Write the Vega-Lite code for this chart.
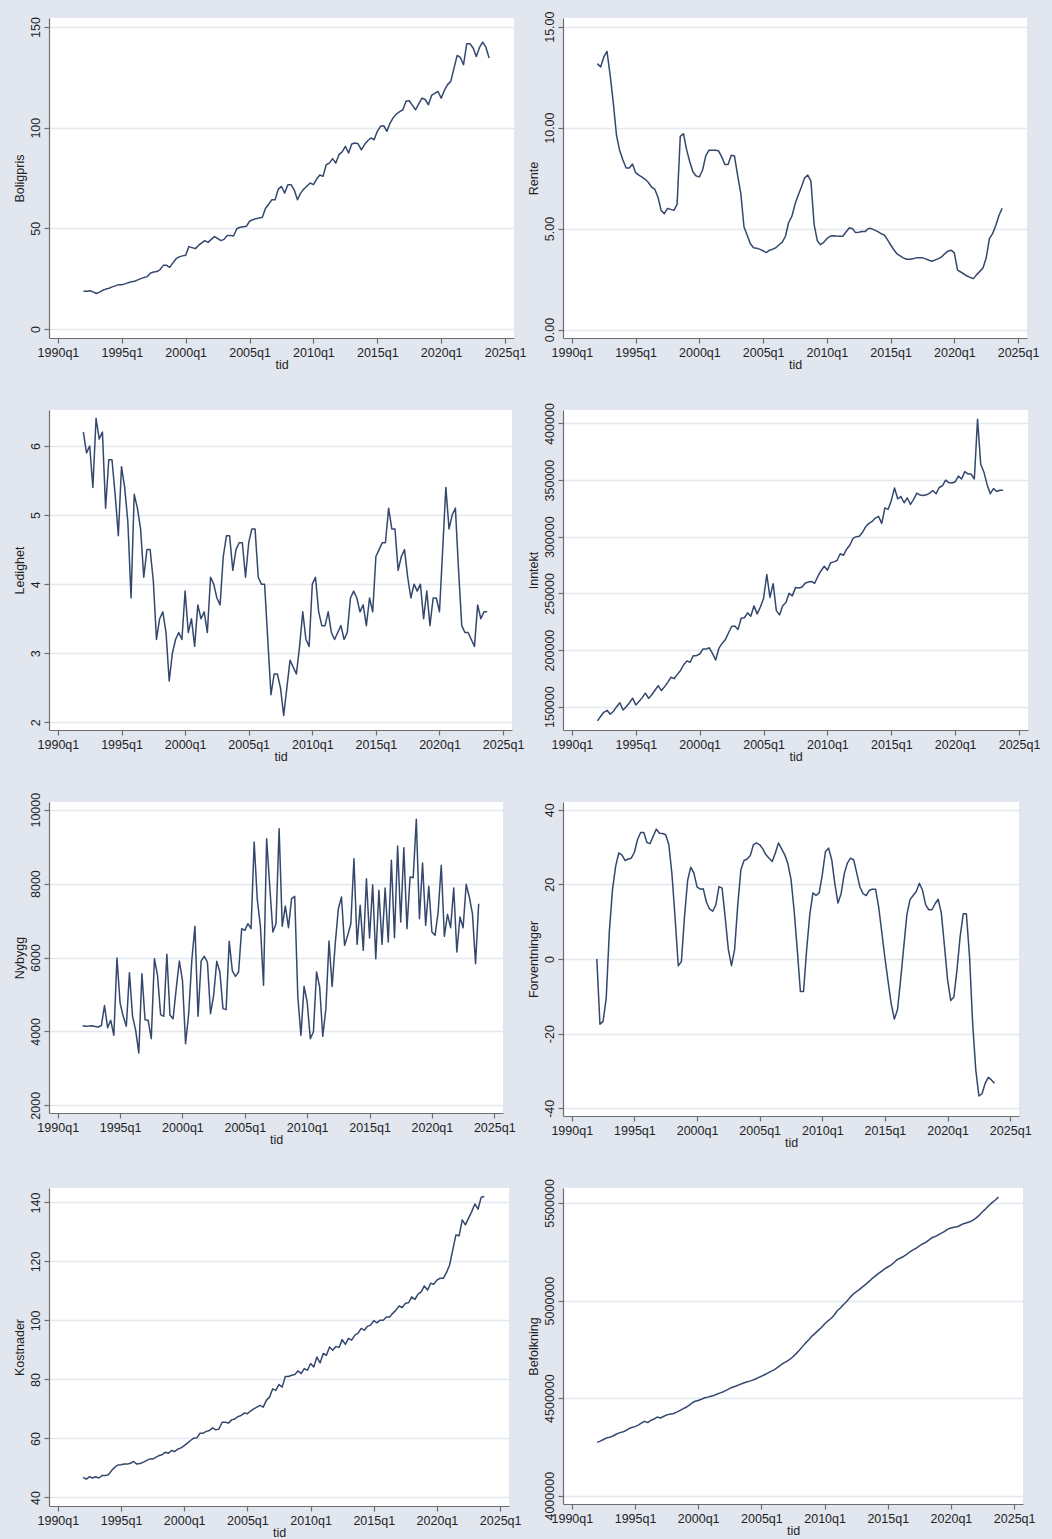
{
  "$schema": "https://vega.github.io/schema/vega-lite/v6.json",
  "padding": {"left": 13, "top": 11, "right": 12, "bottom": 0},
  "data": {
    "values": [
      {"t":1992,"Boligpris":18.7,"Rente":13.17,"Ledighet":6.2,"Inntekt":137500,"Nybygg":4155,"Forventninger":0,"Kostnader":46.8,"Befolkning":4273000},
      {"t":1992.25,"Boligpris":18.7,"Rente":13.0,"Ledighet":5.9,"Inntekt":141500,"Nybygg":4140,"Forventninger":-17.5,"Kostnader":46.2,"Befolkning":4280000},
      {"t":1992.5,"Boligpris":19.0,"Rente":13.5,"Ledighet":6.0,"Inntekt":145000,"Nybygg":4145,"Forventninger":-16.7,"Kostnader":47.0,"Befolkning":4288000},
      {"t":1992.75,"Boligpris":18.4,"Rente":13.78,"Ledighet":5.4,"Inntekt":146800,"Nybygg":4155,"Forventninger":-10.5,"Kostnader":46.6,"Befolkning":4296000},
      {"t":1993,"Boligpris":17.6,"Rente":12.6,"Ledighet":6.4,"Inntekt":143300,"Nybygg":4135,"Forventninger":7.4,"Kostnader":47.0,"Befolkning":4299000},
      {"t":1993.25,"Boligpris":18.3,"Rente":11.2,"Ledighet":6.1,"Inntekt":146000,"Nybygg":4120,"Forventninger":18.6,"Kostnader":46.6,"Befolkning":4306000},
      {"t":1993.5,"Boligpris":19.2,"Rente":9.6,"Ledighet":6.2,"Inntekt":150000,"Nybygg":4160,"Forventninger":24.8,"Kostnader":47.4,"Befolkning":4315000},
      {"t":1993.75,"Boligpris":19.8,"Rente":8.85,"Ledighet":5.1,"Inntekt":153500,"Nybygg":4700,"Forventninger":28.4,"Kostnader":47.4,"Befolkning":4322000},
      {"t":1994,"Boligpris":20.2,"Rente":8.4,"Ledighet":5.8,"Inntekt":147100,"Nybygg":4100,"Forventninger":27.9,"Kostnader":47.7,"Befolkning":4326000},
      {"t":1994.25,"Boligpris":20.9,"Rente":8.0,"Ledighet":5.8,"Inntekt":150000,"Nybygg":4300,"Forventninger":26.4,"Kostnader":49.1,"Befolkning":4333000},
      {"t":1994.5,"Boligpris":21.4,"Rente":8.0,"Ledighet":5.3,"Inntekt":153500,"Nybygg":3894,"Forventninger":26.8,"Kostnader":50.2,"Befolkning":4343000},
      {"t":1994.75,"Boligpris":22.0,"Rente":8.2,"Ledighet":4.7,"Inntekt":157500,"Nybygg":5986,"Forventninger":27.0,"Kostnader":51.0,"Befolkning":4350000},
      {"t":1995,"Boligpris":22.0,"Rente":7.77,"Ledighet":5.7,"Inntekt":151500,"Nybygg":4769,"Forventninger":28.6,"Kostnader":51.1,"Befolkning":4354000},
      {"t":1995.25,"Boligpris":22.4,"Rente":7.65,"Ledighet":5.4,"Inntekt":154500,"Nybygg":4408,"Forventninger":32.0,"Kostnader":51.3,"Befolkning":4362000},
      {"t":1995.5,"Boligpris":23.0,"Rente":7.55,"Ledighet":4.9,"Inntekt":158000,"Nybygg":4138,"Forventninger":33.9,"Kostnader":51.3,"Befolkning":4372000},
      {"t":1995.75,"Boligpris":23.4,"Rente":7.44,"Ledighet":3.8,"Inntekt":162000,"Nybygg":5590,"Forventninger":33.9,"Kostnader":51.6,"Befolkning":4381000},
      {"t":1996,"Boligpris":23.7,"Rente":7.28,"Ledighet":5.3,"Inntekt":157300,"Nybygg":4408,"Forventninger":31.2,"Kostnader":52.2,"Befolkning":4375000},
      {"t":1996.25,"Boligpris":24.4,"Rente":7.05,"Ledighet":5.1,"Inntekt":160500,"Nybygg":4030,"Forventninger":30.9,"Kostnader":51.3,"Befolkning":4386000},
      {"t":1996.5,"Boligpris":25.0,"Rente":6.95,"Ledighet":4.8,"Inntekt":164500,"Nybygg":3416,"Forventninger":32.9,"Kostnader":51.5,"Befolkning":4393000},
      {"t":1996.75,"Boligpris":25.6,"Rente":6.55,"Ledighet":4.1,"Inntekt":168500,"Nybygg":5563,"Forventninger":34.8,"Kostnader":51.9,"Befolkning":4403000},
      {"t":1997,"Boligpris":26.0,"Rente":5.9,"Ledighet":4.5,"Inntekt":164200,"Nybygg":4318,"Forventninger":33.7,"Kostnader":52.5,"Befolkning":4398000},
      {"t":1997.25,"Boligpris":27.8,"Rente":5.74,"Ledighet":4.5,"Inntekt":167500,"Nybygg":4300,"Forventninger":33.6,"Kostnader":53.0,"Befolkning":4406000},
      {"t":1997.5,"Boligpris":28.3,"Rente":6.0,"Ledighet":4.05,"Inntekt":171500,"Nybygg":3804,"Forventninger":33.3,"Kostnader":53.0,"Befolkning":4414000},
      {"t":1997.75,"Boligpris":28.5,"Rente":5.95,"Ledighet":3.2,"Inntekt":176000,"Nybygg":5968,"Forventninger":30.6,"Kostnader":53.6,"Befolkning":4418000},
      {"t":1998,"Boligpris":29.5,"Rente":5.9,"Ledighet":3.5,"Inntekt":174700,"Nybygg":5517,"Forventninger":22.6,"Kostnader":54.2,"Befolkning":4420000},
      {"t":1998.25,"Boligpris":31.6,"Rente":6.2,"Ledighet":3.6,"Inntekt":178500,"Nybygg":4453,"Forventninger":11.0,"Kostnader":54.5,"Befolkning":4427000},
      {"t":1998.5,"Boligpris":31.6,"Rente":9.57,"Ledighet":3.3,"Inntekt":182000,"Nybygg":4408,"Forventninger":-1.8,"Kostnader":55.3,"Befolkning":4435000},
      {"t":1998.75,"Boligpris":30.6,"Rente":9.7,"Ledighet":2.6,"Inntekt":187000,"Nybygg":6086,"Forventninger":-0.7,"Kostnader":55.0,"Befolkning":4444000},
      {"t":1999,"Boligpris":32.8,"Rente":8.9,"Ledighet":3.0,"Inntekt":190400,"Nybygg":4435,"Forventninger":11.4,"Kostnader":55.9,"Befolkning":4452000},
      {"t":1999.25,"Boligpris":34.9,"Rente":8.3,"Ledighet":3.2,"Inntekt":189200,"Nybygg":4345,"Forventninger":21.1,"Kostnader":55.6,"Befolkning":4462000},
      {"t":1999.5,"Boligpris":35.8,"Rente":7.8,"Ledighet":3.3,"Inntekt":195000,"Nybygg":5157,"Forventninger":24.6,"Kostnader":56.4,"Befolkning":4474000},
      {"t":1999.75,"Boligpris":36.3,"Rente":7.6,"Ledighet":3.2,"Inntekt":195000,"Nybygg":5905,"Forventninger":23.0,"Kostnader":56.8,"Befolkning":4484000},
      {"t":2000,"Boligpris":36.6,"Rente":7.56,"Ledighet":3.9,"Inntekt":196500,"Nybygg":5382,"Forventninger":19.3,"Kostnader":57.6,"Befolkning":4488000},
      {"t":2000.25,"Boligpris":40.9,"Rente":7.9,"Ledighet":3.3,"Inntekt":200800,"Nybygg":3668,"Forventninger":18.7,"Kostnader":58.4,"Befolkning":4494000},
      {"t":2000.5,"Boligpris":40.4,"Rente":8.6,"Ledighet":3.5,"Inntekt":200800,"Nybygg":4480,"Forventninger":18.8,"Kostnader":59.3,"Befolkning":4502000},
      {"t":2000.75,"Boligpris":39.9,"Rente":8.88,"Ledighet":3.1,"Inntekt":202000,"Nybygg":5923,"Forventninger":15.2,"Kostnader":60.1,"Befolkning":4505000},
      {"t":2001,"Boligpris":41.5,"Rente":8.88,"Ledighet":3.7,"Inntekt":197000,"Nybygg":6843,"Forventninger":13.4,"Kostnader":60.2,"Befolkning":4510000},
      {"t":2001.25,"Boligpris":42.8,"Rente":8.88,"Ledighet":3.5,"Inntekt":191200,"Nybygg":4408,"Forventninger":12.8,"Kostnader":61.8,"Befolkning":4514000},
      {"t":2001.5,"Boligpris":43.9,"Rente":8.85,"Ledighet":3.6,"Inntekt":201400,"Nybygg":5905,"Forventninger":14.5,"Kostnader":61.8,"Befolkning":4521000},
      {"t":2001.75,"Boligpris":43.0,"Rente":8.55,"Ledighet":3.3,"Inntekt":205800,"Nybygg":6032,"Forventninger":19.4,"Kostnader":62.4,"Befolkning":4527000},
      {"t":2002,"Boligpris":44.5,"Rente":8.17,"Ledighet":4.1,"Inntekt":209000,"Nybygg":5878,"Forventninger":19.0,"Kostnader":62.7,"Befolkning":4533000},
      {"t":2002.25,"Boligpris":45.9,"Rente":8.17,"Ledighet":4.0,"Inntekt":215000,"Nybygg":4480,"Forventninger":11.0,"Kostnader":63.6,"Befolkning":4541000},
      {"t":2002.5,"Boligpris":45.0,"Rente":8.63,"Ledighet":3.8,"Inntekt":220800,"Nybygg":4976,"Forventninger":2.5,"Kostnader":62.9,"Befolkning":4550000},
      {"t":2002.75,"Boligpris":43.9,"Rente":8.6,"Ledighet":3.7,"Inntekt":221200,"Nybygg":5896,"Forventninger":-1.8,"Kostnader":63.2,"Befolkning":4557000},
      {"t":2003,"Boligpris":44.5,"Rente":7.64,"Ledighet":4.4,"Inntekt":218200,"Nybygg":5608,"Forventninger":2.6,"Kostnader":65.5,"Befolkning":4562000},
      {"t":2003.25,"Boligpris":46.4,"Rente":6.73,"Ledighet":4.7,"Inntekt":228000,"Nybygg":4616,"Forventninger":14.5,"Kostnader":65.5,"Befolkning":4569000},
      {"t":2003.5,"Boligpris":46.4,"Rente":5.08,"Ledighet":4.7,"Inntekt":228500,"Nybygg":4589,"Forventninger":23.9,"Kostnader":65.2,"Befolkning":4575000},
      {"t":2003.75,"Boligpris":46.2,"Rente":4.67,"Ledighet":4.2,"Inntekt":232800,"Nybygg":6437,"Forventninger":26.4,"Kostnader":66.3,"Befolkning":4581000},
      {"t":2004,"Boligpris":49.8,"Rente":4.25,"Ledighet":4.5,"Inntekt":229800,"Nybygg":5635,"Forventninger":26.8,"Kostnader":66.6,"Befolkning":4586000},
      {"t":2004.25,"Boligpris":50.5,"Rente":4.05,"Ledighet":4.6,"Inntekt":239000,"Nybygg":5490,"Forventninger":27.7,"Kostnader":67.4,"Befolkning":4591000},
      {"t":2004.5,"Boligpris":50.8,"Rente":4.03,"Ledighet":4.6,"Inntekt":231900,"Nybygg":5608,"Forventninger":30.6,"Kostnader":67.8,"Befolkning":4597000},
      {"t":2004.75,"Boligpris":51.0,"Rente":3.97,"Ledighet":4.1,"Inntekt":238000,"Nybygg":6780,"Forventninger":31.1,"Kostnader":68.6,"Befolkning":4605000},
      {"t":2005,"Boligpris":53.5,"Rente":3.9,"Ledighet":4.6,"Inntekt":245500,"Nybygg":6735,"Forventninger":30.6,"Kostnader":68.4,"Befolkning":4612000},
      {"t":2005.25,"Boligpris":54.3,"Rente":3.81,"Ledighet":4.8,"Inntekt":266700,"Nybygg":6915,"Forventninger":29.5,"Kostnader":69.3,"Befolkning":4620000},
      {"t":2005.5,"Boligpris":54.8,"Rente":3.93,"Ledighet":4.8,"Inntekt":246400,"Nybygg":6780,"Forventninger":27.9,"Kostnader":70.0,"Befolkning":4628000},
      {"t":2005.75,"Boligpris":55.1,"Rente":3.98,"Ledighet":4.1,"Inntekt":258600,"Nybygg":9125,"Forventninger":27.0,"Kostnader":70.6,"Befolkning":4637000},
      {"t":2006,"Boligpris":55.5,"Rente":4.05,"Ledighet":4.0,"Inntekt":234800,"Nybygg":7565,"Forventninger":26.1,"Kostnader":71.2,"Befolkning":4645000},
      {"t":2006.25,"Boligpris":60.0,"Rente":4.2,"Ledighet":4.0,"Inntekt":231000,"Nybygg":6843,"Forventninger":28.4,"Kostnader":70.6,"Befolkning":4656000},
      {"t":2006.5,"Boligpris":62.0,"Rente":4.33,"Ledighet":3.2,"Inntekt":239100,"Nybygg":5247,"Forventninger":31.1,"Kostnader":72.9,"Befolkning":4668000},
      {"t":2006.75,"Boligpris":64.2,"Rente":4.62,"Ledighet":2.4,"Inntekt":242000,"Nybygg":9215,"Forventninger":29.5,"Kostnader":74.0,"Befolkning":4679000},
      {"t":2007,"Boligpris":64.2,"Rente":5.3,"Ledighet":2.7,"Inntekt":250100,"Nybygg":7926,"Forventninger":27.9,"Kostnader":76.8,"Befolkning":4688000},
      {"t":2007.25,"Boligpris":69.5,"Rente":5.6,"Ledighet":2.7,"Inntekt":247800,"Nybygg":6690,"Forventninger":25.5,"Kostnader":76.3,"Befolkning":4699000},
      {"t":2007.5,"Boligpris":70.8,"Rente":6.2,"Ledighet":2.5,"Inntekt":255100,"Nybygg":6915,"Forventninger":21.4,"Kostnader":78.3,"Befolkning":4712000},
      {"t":2007.75,"Boligpris":67.5,"Rente":6.65,"Ledighet":2.1,"Inntekt":254800,"Nybygg":9486,"Forventninger":13.0,"Kostnader":77.4,"Befolkning":4728000},
      {"t":2008,"Boligpris":71.7,"Rente":7.06,"Ledighet":2.5,"Inntekt":255500,"Nybygg":6843,"Forventninger":2.5,"Kostnader":81.0,"Befolkning":4745000},
      {"t":2008.25,"Boligpris":71.7,"Rente":7.5,"Ledighet":2.9,"Inntekt":259000,"Nybygg":7393,"Forventninger":-8.7,"Kostnader":81.0,"Befolkning":4764000},
      {"t":2008.5,"Boligpris":69.0,"Rente":7.65,"Ledighet":2.8,"Inntekt":260000,"Nybygg":6807,"Forventninger":-8.7,"Kostnader":81.4,"Befolkning":4783000},
      {"t":2008.75,"Boligpris":64.2,"Rente":7.35,"Ledighet":2.7,"Inntekt":260500,"Nybygg":7592,"Forventninger":2.5,"Kostnader":81.7,"Befolkning":4799000},
      {"t":2009,"Boligpris":67.5,"Rente":5.2,"Ledighet":3.1,"Inntekt":258900,"Nybygg":7655,"Forventninger":11.9,"Kostnader":82.9,"Befolkning":4818000},
      {"t":2009.25,"Boligpris":69.5,"Rente":4.4,"Ledighet":3.6,"Inntekt":265000,"Nybygg":4931,"Forventninger":17.7,"Kostnader":82.0,"Befolkning":4832000},
      {"t":2009.5,"Boligpris":71.0,"Rente":4.2,"Ledighet":3.2,"Inntekt":270000,"Nybygg":3894,"Forventninger":17.0,"Kostnader":83.7,"Befolkning":4847000},
      {"t":2009.75,"Boligpris":72.5,"Rente":4.32,"Ledighet":3.1,"Inntekt":274000,"Nybygg":5220,"Forventninger":17.7,"Kostnader":83.1,"Befolkning":4862000},
      {"t":2010,"Boligpris":71.7,"Rente":4.5,"Ledighet":4.0,"Inntekt":270500,"Nybygg":4796,"Forventninger":22.6,"Kostnader":85.4,"Befolkning":4880000},
      {"t":2010.25,"Boligpris":74.5,"Rente":4.62,"Ledighet":4.1,"Inntekt":277000,"Nybygg":3804,"Forventninger":28.8,"Kostnader":84.2,"Befolkning":4895000},
      {"t":2010.5,"Boligpris":76.5,"Rente":4.65,"Ledighet":3.6,"Inntekt":277800,"Nybygg":3984,"Forventninger":29.7,"Kostnader":87.6,"Befolkning":4908000},
      {"t":2010.75,"Boligpris":75.8,"Rente":4.63,"Ledighet":3.4,"Inntekt":279000,"Nybygg":5608,"Forventninger":26.6,"Kostnader":85.6,"Befolkning":4925000},
      {"t":2011,"Boligpris":81.6,"Rente":4.62,"Ledighet":3.4,"Inntekt":285000,"Nybygg":5202,"Forventninger":20.1,"Kostnader":88.8,"Befolkning":4948000},
      {"t":2011.25,"Boligpris":82.4,"Rente":4.62,"Ledighet":3.6,"Inntekt":283600,"Nybygg":3867,"Forventninger":15.0,"Kostnader":88.2,"Befolkning":4962000},
      {"t":2011.5,"Boligpris":84.6,"Rente":4.83,"Ledighet":3.3,"Inntekt":289000,"Nybygg":4616,"Forventninger":17.5,"Kostnader":91.0,"Befolkning":4980000},
      {"t":2011.75,"Boligpris":82.4,"Rente":5.03,"Ledighet":3.2,"Inntekt":292500,"Nybygg":6446,"Forventninger":22.8,"Kostnader":89.9,"Befolkning":4995000},
      {"t":2012,"Boligpris":86.6,"Rente":5.0,"Ledighet":3.3,"Inntekt":298500,"Nybygg":5220,"Forventninger":25.7,"Kostnader":91.2,"Befolkning":5015000},
      {"t":2012.25,"Boligpris":88.0,"Rente":4.8,"Ledighet":3.4,"Inntekt":300100,"Nybygg":6374,"Forventninger":27.0,"Kostnader":90.8,"Befolkning":5032000},
      {"t":2012.5,"Boligpris":90.7,"Rente":4.82,"Ledighet":3.2,"Inntekt":300500,"Nybygg":7321,"Forventninger":26.6,"Kostnader":93.5,"Befolkning":5045000},
      {"t":2012.75,"Boligpris":87.4,"Rente":4.85,"Ledighet":3.3,"Inntekt":304000,"Nybygg":7637,"Forventninger":23.0,"Kostnader":91.9,"Befolkning":5056000},
      {"t":2013,"Boligpris":91.9,"Rente":4.85,"Ledighet":3.8,"Inntekt":309000,"Nybygg":6329,"Forventninger":19.3,"Kostnader":93.9,"Befolkning":5070000},
      {"t":2013.25,"Boligpris":92.4,"Rente":5.0,"Ledighet":3.9,"Inntekt":311800,"Nybygg":6600,"Forventninger":17.5,"Kostnader":93.3,"Befolkning":5083000},
      {"t":2013.5,"Boligpris":92.0,"Rente":5.0,"Ledighet":3.8,"Inntekt":313500,"Nybygg":6915,"Forventninger":17.0,"Kostnader":95.0,"Befolkning":5097000},
      {"t":2013.75,"Boligpris":89.0,"Rente":4.92,"Ledighet":3.6,"Inntekt":316500,"Nybygg":8674,"Forventninger":18.4,"Kostnader":95.6,"Befolkning":5112000},
      {"t":2014,"Boligpris":91.6,"Rente":4.85,"Ledighet":3.7,"Inntekt":318000,"Nybygg":6356,"Forventninger":18.7,"Kostnader":97.3,"Befolkning":5125000},
      {"t":2014.25,"Boligpris":93.5,"Rente":4.75,"Ledighet":3.4,"Inntekt":311800,"Nybygg":7411,"Forventninger":18.7,"Kostnader":96.7,"Befolkning":5138000},
      {"t":2014.5,"Boligpris":94.9,"Rente":4.68,"Ledighet":3.8,"Inntekt":325500,"Nybygg":6194,"Forventninger":13.9,"Kostnader":98.0,"Befolkning":5150000},
      {"t":2014.75,"Boligpris":94.0,"Rente":4.45,"Ledighet":3.6,"Inntekt":324200,"Nybygg":8133,"Forventninger":7.1,"Kostnader":98.4,"Befolkning":5162000},
      {"t":2015,"Boligpris":98.2,"Rente":4.2,"Ledighet":4.4,"Inntekt":332100,"Nybygg":6528,"Forventninger":0.2,"Kostnader":99.9,"Befolkning":5172000},
      {"t":2015.25,"Boligpris":100.7,"Rente":3.95,"Ledighet":4.5,"Inntekt":343000,"Nybygg":7970,"Forventninger":-6.0,"Kostnader":99.2,"Befolkning":5182000},
      {"t":2015.5,"Boligpris":101.0,"Rente":3.75,"Ledighet":4.6,"Inntekt":333500,"Nybygg":5968,"Forventninger":-12.0,"Kostnader":100.1,"Befolkning":5195000},
      {"t":2015.75,"Boligpris":98.2,"Rente":3.65,"Ledighet":4.6,"Inntekt":335500,"Nybygg":7817,"Forventninger":-16.1,"Kostnader":100.1,"Befolkning":5210000},
      {"t":2016,"Boligpris":102.3,"Rente":3.55,"Ledighet":5.1,"Inntekt":330000,"Nybygg":6356,"Forventninger":-13.6,"Kostnader":101.2,"Befolkning":5218000},
      {"t":2016.25,"Boligpris":105.0,"Rente":3.48,"Ledighet":4.8,"Inntekt":334400,"Nybygg":7880,"Forventninger":-5.6,"Kostnader":101.2,"Befolkning":5226000},
      {"t":2016.5,"Boligpris":106.8,"Rente":3.48,"Ledighet":4.8,"Inntekt":328500,"Nybygg":6419,"Forventninger":3.2,"Kostnader":102.4,"Befolkning":5237000},
      {"t":2016.75,"Boligpris":108.0,"Rente":3.5,"Ledighet":4.2,"Inntekt":333000,"Nybygg":8629,"Forventninger":11.9,"Kostnader":103.5,"Befolkning":5250000},
      {"t":2017,"Boligpris":108.9,"Rente":3.55,"Ledighet":4.4,"Inntekt":338500,"Nybygg":6537,"Forventninger":15.9,"Kostnader":104.9,"Befolkning":5260000},
      {"t":2017.25,"Boligpris":113.1,"Rente":3.55,"Ledighet":4.5,"Inntekt":336800,"Nybygg":9017,"Forventninger":17.0,"Kostnader":104.4,"Befolkning":5268000},
      {"t":2017.5,"Boligpris":113.4,"Rente":3.55,"Ledighet":4.1,"Inntekt":336400,"Nybygg":6960,"Forventninger":18.1,"Kostnader":105.8,"Befolkning":5280000},
      {"t":2017.75,"Boligpris":111.1,"Rente":3.5,"Ledighet":3.8,"Inntekt":337000,"Nybygg":8972,"Forventninger":20.3,"Kostnader":106.0,"Befolkning":5290000},
      {"t":2018,"Boligpris":108.9,"Rente":3.43,"Ledighet":4.0,"Inntekt":338500,"Nybygg":6780,"Forventninger":18.4,"Kostnader":108.0,"Befolkning":5298000},
      {"t":2018.25,"Boligpris":112.0,"Rente":3.38,"Ledighet":3.9,"Inntekt":340800,"Nybygg":8178,"Forventninger":14.5,"Kostnader":107.1,"Befolkning":5310000},
      {"t":2018.5,"Boligpris":114.7,"Rente":3.45,"Ledighet":4.0,"Inntekt":337900,"Nybygg":8160,"Forventninger":13.2,"Kostnader":108.9,"Befolkning":5322000},
      {"t":2018.75,"Boligpris":114.0,"Rente":3.51,"Ledighet":3.5,"Inntekt":343500,"Nybygg":9738,"Forventninger":13.2,"Kostnader":109.7,"Befolkning":5328000},
      {"t":2019,"Boligpris":111.4,"Rente":3.6,"Ledighet":3.9,"Inntekt":345000,"Nybygg":7050,"Forventninger":14.8,"Kostnader":111.7,"Befolkning":5337000},
      {"t":2019.25,"Boligpris":116.0,"Rente":3.75,"Ledighet":3.4,"Inntekt":350000,"Nybygg":8557,"Forventninger":16.0,"Kostnader":110.3,"Befolkning":5346000},
      {"t":2019.5,"Boligpris":117.0,"Rente":3.88,"Ledighet":3.8,"Inntekt":347800,"Nybygg":6870,"Forventninger":12.3,"Kostnader":112.6,"Befolkning":5355000},
      {"t":2019.75,"Boligpris":118.0,"Rente":3.93,"Ledighet":3.8,"Inntekt":347400,"Nybygg":7926,"Forventninger":3.5,"Kostnader":112.3,"Befolkning":5366000},
      {"t":2020,"Boligpris":114.7,"Rente":3.8,"Ledighet":3.6,"Inntekt":348500,"Nybygg":6690,"Forventninger":-5.6,"Kostnader":113.7,"Befolkning":5372000},
      {"t":2020.25,"Boligpris":118.5,"Rente":2.94,"Ledighet":4.5,"Inntekt":353500,"Nybygg":6600,"Forventninger":-11.1,"Kostnader":114.3,"Befolkning":5376000},
      {"t":2020.5,"Boligpris":121.4,"Rente":2.85,"Ledighet":5.4,"Inntekt":351000,"Nybygg":7230,"Forventninger":-10.2,"Kostnader":114.3,"Befolkning":5378000},
      {"t":2020.75,"Boligpris":123.0,"Rente":2.75,"Ledighet":4.8,"Inntekt":357500,"Nybygg":8494,"Forventninger":-2.9,"Kostnader":116.2,"Befolkning":5386000},
      {"t":2021,"Boligpris":129.5,"Rente":2.65,"Ledighet":5.0,"Inntekt":355500,"Nybygg":6573,"Forventninger":6.0,"Kostnader":118.8,"Befolkning":5394000},
      {"t":2021.25,"Boligpris":135.9,"Rente":2.58,"Ledighet":5.1,"Inntekt":355300,"Nybygg":7167,"Forventninger":12.1,"Kostnader":123.9,"Befolkning":5399000},
      {"t":2021.5,"Boligpris":134.9,"Rente":2.52,"Ledighet":4.2,"Inntekt":351000,"Nybygg":6807,"Forventninger":12.1,"Kostnader":129.0,"Befolkning":5404000},
      {"t":2021.75,"Boligpris":131.3,"Rente":2.72,"Ledighet":3.4,"Inntekt":403800,"Nybygg":7880,"Forventninger":0.7,"Kostnader":128.7,"Befolkning":5412000},
      {"t":2022,"Boligpris":141.7,"Rente":2.88,"Ledighet":3.3,"Inntekt":364000,"Nybygg":6149,"Forventninger":-17.2,"Kostnader":134.1,"Befolkning":5424000},
      {"t":2022.25,"Boligpris":141.7,"Rente":3.05,"Ledighet":3.3,"Inntekt":357000,"Nybygg":7095,"Forventninger":-29.7,"Kostnader":132.4,"Befolkning":5438000},
      {"t":2022.5,"Boligpris":139.6,"Rente":3.55,"Ledighet":3.2,"Inntekt":346000,"Nybygg":6807,"Forventninger":-36.7,"Kostnader":134.7,"Befolkning":5455000},
      {"t":2022.75,"Boligpris":135.4,"Rente":4.5,"Ledighet":3.1,"Inntekt":338000,"Nybygg":7980,"Forventninger":-36.1,"Kostnader":136.9,"Befolkning":5470000},
      {"t":2023,"Boligpris":139.9,"Rente":4.75,"Ledighet":3.7,"Inntekt":342500,"Nybygg":7637,"Forventninger":-33.3,"Kostnader":139.5,"Befolkning":5487000},
      {"t":2023.25,"Boligpris":142.5,"Rente":5.15,"Ledighet":3.5,"Inntekt":340000,"Nybygg":7186,"Forventninger":-31.7,"Kostnader":137.7,"Befolkning":5502000},
      {"t":2023.5,"Boligpris":140.0,"Rente":5.65,"Ledighet":3.6,"Inntekt":341000,"Nybygg":5833,"Forventninger":-32.4,"Kostnader":141.8,"Befolkning":5514000},
      {"t":2023.75,"Boligpris":134.6,"Rente":6.0,"Ledighet":3.6,"Inntekt":341000,"Nybygg":7456,"Forventninger":-33.3,"Kostnader":142.0,"Befolkning":5531000}
    ]
  },
  "columns": 2,
  "spacing": {"row": 72, "column": 49},
  "bounds": "flush",
  "align": "each",
  "concat": [
    {
      "width": 465, "height": 320,
      "mark": {"type": "line", "color": "#34486e", "strokeWidth": 1.5, "strokeJoin": "round"},
      "encoding": {
        "x": {"field": "t", "type": "quantitative", "scale": {"domain": [1989.3, 2025.7], "nice": false, "zero": false},
              "axis": {"values": [1990, 1995, 2000, 2005, 2010, 2015, 2020, 2025], "labelExpr": "datum.value + 'q1'", "title": "tid"}},
        "y": {"field": "Boligpris", "type": "quantitative", "scale": {"domain": [-4.5, 154.5], "nice": false, "zero": false},
              "axis": {"values": [0, 50, 100, 150], "labelExpr": "'' + datum.value", "title": "Boligpris"}}
      }
    },
    {
      "width": 464, "height": 320,
      "mark": {"type": "line", "color": "#34486e", "strokeWidth": 1.5, "strokeJoin": "round"},
      "encoding": {
        "x": {"field": "t", "type": "quantitative", "scale": {"domain": [1989.3, 2025.7], "nice": false, "zero": false},
              "axis": {"values": [1990, 1995, 2000, 2005, 2010, 2015, 2020, 2025], "labelExpr": "datum.value + 'q1'", "title": "tid"}},
        "y": {"field": "Rente", "type": "quantitative", "scale": {"domain": [-0.42, 15.43], "nice": false, "zero": false},
              "axis": {"values": [0, 5, 10, 15], "labelExpr": "format(datum.value, '.2f')", "title": "Rente"}}
      }
    },
    {
      "width": 463, "height": 320,
      "mark": {"type": "line", "color": "#34486e", "strokeWidth": 1.5, "strokeJoin": "round"},
      "encoding": {
        "x": {"field": "t", "type": "quantitative", "scale": {"domain": [1989.3, 2025.7], "nice": false, "zero": false},
              "axis": {"values": [1990, 1995, 2000, 2005, 2010, 2015, 2020, 2025], "labelExpr": "datum.value + 'q1'", "title": "tid"}},
        "y": {"field": "Ledighet", "type": "quantitative", "scale": {"domain": [1.89, 6.52], "nice": false, "zero": false},
              "axis": {"values": [2, 3, 4, 5, 6], "labelExpr": "'' + datum.value", "title": "Ledighet"}}
      }
    },
    {
      "width": 465, "height": 320,
      "mark": {"type": "line", "color": "#34486e", "strokeWidth": 1.5, "strokeJoin": "round"},
      "encoding": {
        "x": {"field": "t", "type": "quantitative", "scale": {"domain": [1989.3, 2025.7], "nice": false, "zero": false},
              "axis": {"values": [1990, 1995, 2000, 2005, 2010, 2015, 2020, 2025], "labelExpr": "datum.value + 'q1'", "title": "tid"}},
        "y": {"field": "Inntekt", "type": "quantitative", "scale": {"domain": [129400, 411900], "nice": false, "zero": false},
              "axis": {"values": [150000, 200000, 250000, 300000, 350000, 400000], "labelExpr": "'' + datum.value", "title": "Inntekt"}}
      }
    },
    {
      "width": 454, "height": 311,
      "mark": {"type": "line", "color": "#34486e", "strokeWidth": 1.5, "strokeJoin": "round"},
      "encoding": {
        "x": {"field": "t", "type": "quantitative", "scale": {"domain": [1989.3, 2025.7], "nice": false, "zero": false},
              "axis": {"values": [1990, 1995, 2000, 2005, 2010, 2015, 2020, 2025], "labelExpr": "datum.value + 'q1'", "title": "tid"}},
        "y": {"field": "Nybygg", "type": "quantitative", "scale": {"domain": [1792, 10208], "nice": false, "zero": false},
              "axis": {"values": [2000, 4000, 6000, 8000, 10000], "labelExpr": "'' + datum.value", "title": "Nybygg"}}
      }
    },
    {
      "width": 456, "height": 314,
      "mark": {"type": "line", "color": "#34486e", "strokeWidth": 1.5, "strokeJoin": "round"},
      "encoding": {
        "x": {"field": "t", "type": "quantitative", "scale": {"domain": [1989.3, 2025.7], "nice": false, "zero": false},
              "axis": {"values": [1990, 1995, 2000, 2005, 2010, 2015, 2020, 2025], "labelExpr": "datum.value + 'q1'", "title": "tid"}},
        "y": {"field": "Forventninger", "type": "quantitative", "scale": {"domain": [-42.06, 42.06], "nice": false, "zero": false},
              "axis": {"values": [-40, -20, 0, 20, 40], "labelExpr": "'' + datum.value", "title": "Forventninger"}}
      }
    },
    {
      "width": 460, "height": 318,
      "mark": {"type": "line", "color": "#34486e", "strokeWidth": 1.5, "strokeJoin": "round"},
      "encoding": {
        "x": {"field": "t", "type": "quantitative", "scale": {"domain": [1989.3, 2025.7], "nice": false, "zero": false},
              "axis": {"values": [1990, 1995, 2000, 2005, 2010, 2015, 2020, 2025], "labelExpr": "datum.value + 'q1'", "title": "tid"}},
        "y": {"field": "Kostnader", "type": "quantitative", "scale": {"domain": [37.1, 144.9], "nice": false, "zero": false},
              "axis": {"values": [40, 60, 80, 100, 120, 140], "labelExpr": "'' + datum.value", "title": "Kostnader"}}
      }
    },
    {
      "width": 460, "height": 316,
      "mark": {"type": "line", "color": "#34486e", "strokeWidth": 1.5, "strokeJoin": "round"},
      "encoding": {
        "x": {"field": "t", "type": "quantitative", "scale": {"domain": [1989.3, 2025.7], "nice": false, "zero": false},
              "axis": {"values": [1990, 1995, 2000, 2005, 2010, 2015, 2020, 2025], "labelExpr": "datum.value + 'q1'", "title": "tid"}},
        "y": {"field": "Befolkning", "type": "quantitative", "scale": {"domain": [3957500, 5576800], "nice": false, "zero": false},
              "axis": {"values": [4000000, 4500000, 5000000, 5500000], "labelExpr": "'' + datum.value", "title": "Befolkning"}}
      }
    }
  ],
  "config": {
    "background": "#e1e6ef",
    "font": "Liberation Sans",
    "view": {"fill": "white", "stroke": null},
    "axis": {
      "labelFont": "Liberation Sans", "titleFont": "Liberation Sans",
      "labelFontSize": 12.5, "titleFontSize": 12.5, "titleFontWeight": "normal",
      "labelColor": "#1f1f1f", "titleColor": "#1f1f1f",
      "domainColor": "#6e6e6e", "domainWidth": 1.2,
      "tickColor": "#6e6e6e", "tickWidth": 1.2, "tickSize": 5,
      "gridColor": "#e3e8f0", "gridWidth": 1.3,
      "labelOverlap": false, "labelFlush": false
    },
    "axisX": {"grid": false, "labelPadding": 3, "titlePadding": 0},
    "axisY": {"grid": true, "labelAngle": 270, "labelAlign": "center", "labelBaseline": "bottom", "labelPadding": 2, "titlePadding": 3}
  }
}
